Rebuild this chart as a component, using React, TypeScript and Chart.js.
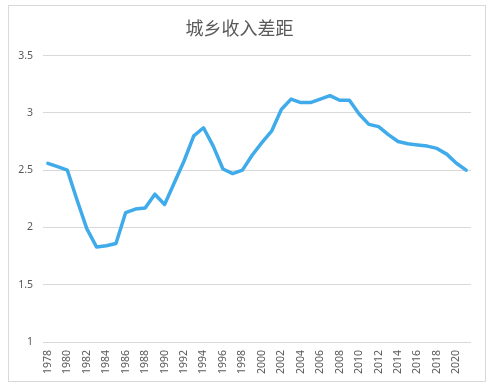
import React, { useEffect, useRef } from "react";
import { Chart, registerables } from "chart.js";

Chart.register(...registerables);

const years: string[] = [
  "1978","1979","1980","1981","1982","1983","1984","1985","1986","1987",
  "1988","1989","1990","1991","1992","1993","1994","1995","1996","1997",
  "1998","1999","2000","2001","2002","2003","2004","2005","2006","2007",
  "2008","2009","2010","2011","2012","2013","2014","2015","2016","2017",
  "2018","2019","2020","2021",
];

const gap: number[] = [
  2.56, 2.53, 2.50, 2.24, 1.99, 1.83, 1.84, 1.86, 2.13, 2.16,
  2.17, 2.29, 2.20, 2.39, 2.58, 2.80, 2.87, 2.71, 2.51, 2.47,
  2.50, 2.63, 2.74, 2.84, 3.03, 3.12, 3.09, 3.09, 3.12, 3.15,
  3.11, 3.11, 2.99, 2.90, 2.88, 2.81, 2.75, 2.73, 2.72, 2.71,
  2.69, 2.64, 2.56, 2.50,
];

const title = "城乡收入差距";
const yMin = 1;
const yMax = 3.5;
const yStep = 0.5;

export default function App() {
  const ref = useRef<HTMLCanvasElement | null>(null);

  useEffect(() => {
    if (!ref.current) return;
    const chart = new Chart(ref.current, {
      type: "line",
      data: {
        labels: years,
        datasets: [
          {
            label: title,
            data: gap,
            borderColor: "#3fabeb",
            borderWidth: 3.5,
            pointRadius: 0,
            tension: 0,
            fill: false,
            borderJoinStyle: "round",
            borderCapStyle: "round",
          },
        ],
      },
      options: {
        animation: false,
        responsive: false,
        maintainAspectRatio: false,
        layout: { padding: { left: 8, right: 24, bottom: 8, top: 0 } },
        plugins: {
          legend: { display: false },
          tooltip: { enabled: false },
          title: {
            display: true,
            text: title,
            color: "#595959",
            font: { family: "'Noto Sans CJK SC', sans-serif", size: 18, weight: "normal" },
            padding: { top: 17, bottom: 17 },
          },
        },
        scales: {
          x: {
            type: "category",
            offset: true,
            grid: { display: false, drawTicks: false },
            border: { display: false },
            ticks: {
              autoSkip: false,
              minRotation: 90,
              maxRotation: 90,
              padding: 8,
              color: "#595959",
              font: { family: "'Noto Sans', sans-serif", size: 10.5 },
              callback: function (_v: any, i: number) {
                return i % 2 === 0 ? years[i] : "";
              },
            },
            afterFit: (s: any) => {
              s.height = 40;
            },
          },
          y: {
            min: yMin,
            max: yMax,
            grid: { color: "#d9d9d9", lineWidth: 1, drawTicks: false },
            border: { display: false },
            ticks: {
              stepSize: yStep,
              padding: 10,
              color: "#595959",
              font: { family: "'Noto Sans', sans-serif", size: 10.5 },
              callback: (v: any) => String(Number(v)),
            },
            afterFit: (s: any) => {
              s.width = 35;
            },
          },
        },
      },
    });
    return () => chart.destroy();
  }, []);

  return (
    <div style={{ position: "absolute", left: 0, top: 0, width: 495, height: 390, background: "#fff" }}>
      <canvas ref={ref} width={495} height={390} style={{ position: "absolute", left: 0, top: 0, width: 495, height: 390 }} />
      <div
        style={{
          position: "absolute",
          left: 8,
          top: 5,
          width: 478,
          height: 377,
          border: "1px solid #d9d9d9",
          boxSizing: "border-box",
          pointerEvents: "none",
        }}
      />
    </div>
  );
}
